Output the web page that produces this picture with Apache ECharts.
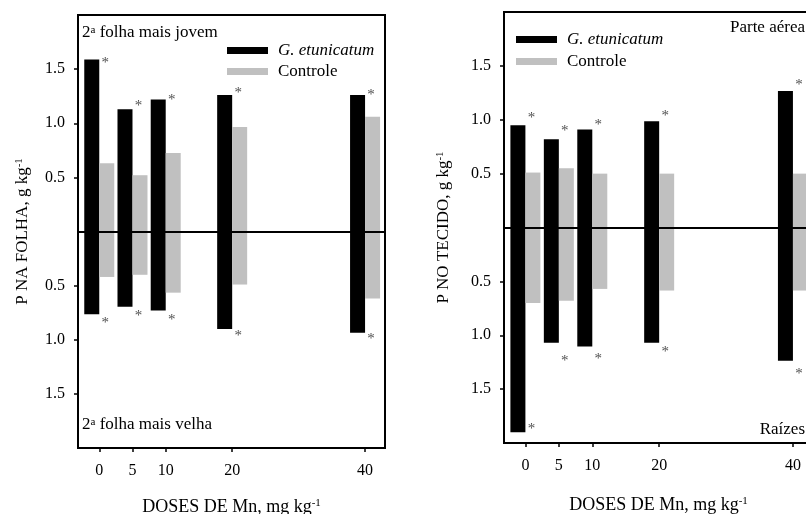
<!DOCTYPE html>
<html>
<head>
<meta charset="utf-8">
<script src="https://cdn.jsdelivr.net/npm/echarts@6/dist/echarts.min.js"></script>
<style>
  html, body { margin: 0; padding: 0; background: #fff; }
  #chart { width: 806px; height: 514px; }
</style>
</head>
<body>
<div id="chart"></div>
<script>
// doses de Mn (mg kg-1) and y tick positions (mirrored axis)
const doses = [0, 5, 10, 20, 40];
const yTicks = [-1.5, -1.0, -0.5, 0.5, 1.0, 1.5];

// left panel: P na folha (upper = 2a folha mais jovem, lower = 2a folha mais velha)
const folhaJovemFungo = [1.59, 1.13, 1.22, 1.26, 1.26];
const folhaJovemControle = [0.63, 0.52, 0.725, 0.965, 1.06];
const folhaVelhaFungo = [0.765, 0.695, 0.73, 0.90, 0.935];
const folhaVelhaControle = [0.42, 0.40, 0.565, 0.49, 0.62];
const folhaStarUp = [1.58, 1.19, 1.24, 1.31, 1.29];
const folhaStarDown = [0.82, 0.75, 0.79, 0.94, 0.965];

// right panel: P no tecido (upper = parte aerea, lower = raizes)
const aereaFungo = [0.95, 0.82, 0.91, 0.985, 1.267];
const aereaControle = [0.51, 0.55, 0.50, 0.50, 0.50];
const raizFungo = [1.90, 1.07, 1.105, 1.07, 1.236];
const raizControle = [0.70, 0.68, 0.57, 0.585, 0.585];
const tecidoStarUp = [1.04, 0.92, 0.98, 1.06, 1.35];
const tecidoStarDown = [1.84, 1.21, 1.19, 1.125, 1.335];

const FONT = 'Liberation Serif';
const BLACK = '#000';
const GRAY = '#c0c0c0';

// rich text with a small raised fragment for "-1" and "a"
const richFor = (size) => ({
  n: { fontFamily: FONT, fontSize: size, color: BLACK },
  s: { fontFamily: FONT, fontSize: Math.round(size * 0.62), color: BLACK, verticalAlign: 'top' },
});

const pts = (vals, sign) => doses.map((d, i) => [d, sign * vals[i]]);

const frameLine = { show: true, onZero: false, lineStyle: { color: BLACK, width: 2 } };
const tickStyle = { color: BLACK, width: 1.5 };

function xAxis(gridIndex, gap) {
  return {
    gridIndex,
    type: 'value',
    min: -3.2,
    max: 43,
    axisLine: frameLine,
    splitLine: { show: false },
    axisTick: { show: true, length: 4, customValues: doses, lineStyle: tickStyle },
    axisLabel: { customValues: doses, color: BLACK, fontFamily: FONT, fontSize: 16, margin: 15 },
    name: '{n|DOSES DE Mn, mg kg}{s|-1}',
    nameLocation: 'middle',
    nameGap: gap,
    nameTextStyle: { rich: richFor(18) },
  };
}

function yAxis(gridIndex, name, gap) {
  return {
    gridIndex,
    type: 'value',
    min: -2,
    max: 2,
    interval: 0.5,
    axisLine: frameLine,
    splitLine: { show: false },
    axisTick: { show: true, length: 4, customValues: yTicks, lineStyle: tickStyle },
    axisLabel: {
      customValues: yTicks,
      formatter: (v) => Math.abs(v).toFixed(1),
      color: BLACK,
      fontFamily: FONT,
      fontSize: 16,
      margin: 13,
    },
    name,
    nameLocation: 'middle',
    nameGap: gap,
    nameTextStyle: { rich: richFor(17) },
  };
}

function panelSeries(p, up1, down1, up2, down2, starUp, starDown) {
  const base = { type: 'bar', xAxisIndex: p, yAxisIndex: p, barWidth: 15, barGap: '0%' };
  return [
    { ...base, name: 'G. etunicatum', stack: 'fungo' + p, itemStyle: { color: BLACK }, data: pts(up1, 1) },
    { ...base, name: 'G. etunicatum', stack: 'fungo' + p, itemStyle: { color: BLACK }, data: pts(down1, -1) },
    { ...base, name: 'Controle', stack: 'controle' + p, itemStyle: { color: GRAY }, data: pts(up2, 1) },
    { ...base, name: 'Controle', stack: 'controle' + p, itemStyle: { color: GRAY }, data: pts(down2, -1) },
    {
      type: 'scatter',
      name: 'signif' + p,
      xAxisIndex: p,
      yAxisIndex: p,
      z: 5,
      symbolSize: 0.1,
      itemStyle: { color: 'transparent' },
      label: {
        show: true,
        position: 'inside',
        formatter: '*',
        offset: [6, 3],
        color: '#222',
        fontFamily: FONT,
        fontSize: 15,
      },
      data: pts(starUp, 1).concat(pts(starDown, -1)),
      markLine: {
        silent: true,
        symbol: 'none',
        label: { show: false },
        lineStyle: { color: BLACK, width: 2, type: 'solid' },
        data: [{ yAxis: 0 }],
      },
    },
  ];
}

function legend(left, top, gap) {
  return {
    left,
    top,
    padding: 0,
    orient: 'vertical',
    itemWidth: 41,
    itemHeight: 7,
    itemGap: gap,
    icon: 'rect',
    selectedMode: false,
    textStyle: { color: BLACK, fontFamily: FONT, fontSize: 17, padding: [0, 0, 0, 5] },
    data: [
      { name: 'G. etunicatum', textStyle: { fontStyle: 'italic' } },
      { name: 'Controle' },
    ],
  };
}

function note(text, x, y, align) {
  return {
    type: 'text',
    x,
    y,
    z: 10,
    style: { text, rich: richFor(17), align, verticalAlign: 'middle' },
  };
}

const gridBase = {
  show: true,
  borderColor: BLACK,
  borderWidth: 2,
  backgroundColor: 'transparent',
  containLabel: false,
  outerBoundsMode: 'none',
};

const chart = echarts.init(document.getElementById('chart'));
chart.setOption({
  animation: false,
  backgroundColor: '#fff',
  grid: [
    { ...gridBase, left: 78, top: 15, width: 307, height: 433 },
    { ...gridBase, left: 504, top: 12, width: 309, height: 431 },
  ],
  xAxis: [xAxis(0, 50), xAxis(1, 53)],
  yAxis: [
    yAxis(0, '{n|P NA FOLHA, g kg}{s|-1}', 47),
    yAxis(1, '{n|P NO TECIDO, g kg}{s|-1}', 52),
  ],
  legend: [legend(227, 42, 4), legend(516, 31, 5)],
  graphic: [
    note('{n|2}{s|a}{n| folha mais jovem}', 82, 33, 'left'),
    note('{n|2}{s|a}{n| folha mais velha}', 82, 425, 'left'),
    note('{n|Parte aérea}', 805, 28, 'right'),
    note('{n|Raízes}', 805, 430, 'right'),
  ],
  series: [
    ...panelSeries(0, folhaJovemFungo, folhaVelhaFungo, folhaJovemControle, folhaVelhaControle, folhaStarUp, folhaStarDown),
    ...panelSeries(1, aereaFungo, raizFungo, aereaControle, raizControle, tecidoStarUp, tecidoStarDown),
  ],
});
</script>
</body>
</html>
